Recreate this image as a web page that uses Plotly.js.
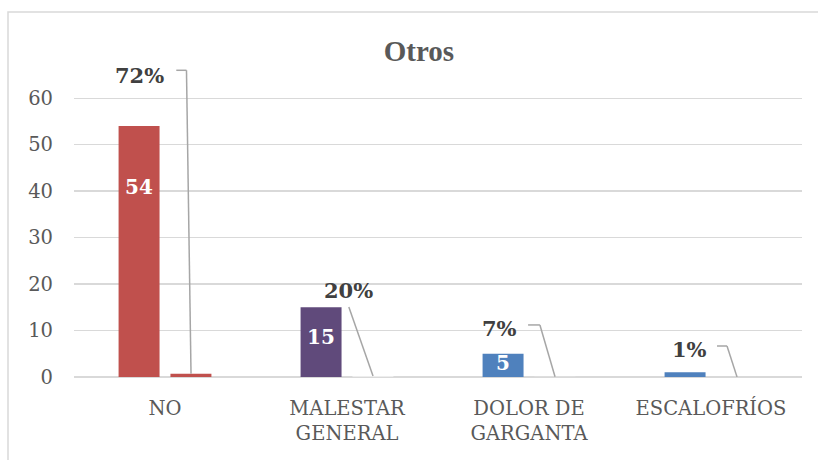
<!DOCTYPE html>
<html>
<head>
<meta charset="utf-8">
<script src="https://cdn.plot.ly/plotly-3.0.1.min.js"></script>
<style>html,body{margin:0;padding:0;background:#fff;}#chart{width:818px;height:460px;}</style>
</head>
<body>
<div id="chart"></div>
<script>
// ---- data ----
const categories = ['NO', 'MALESTAR<br>GENERAL', 'DOLOR DE<br>GARGANTA', 'ESCALOFRÍOS'];
const counts = [54, 15, 5, 1];
const percents = [0.72, 0.20, 0.07, 0.01];
const percentLabels = ['72%', '20%', '7%', '1%'];
const yTicks = [0, 10, 20, 30, 40, 50, 60];

// ---- styling / layout config (not data) ----
const countColors = ['#C0504D', '#604A7B', '#4F81BD', '#4F81BD'];
const pctColors = ['#C0504D', '#EDEDED', '#EDEDED', '#EDEDED'];
const barHalf = 0.143;                       // offset of each bar from category centre
const countLabelY = [40.9, 8.6, 3.0];        // vertical placement of in-bar labels
const pctLabelPos = [                        // callout text position + leader start/elbow
  {tx: -0.14, ty: 64.9, sx: 0.062, sy: 66.0, ex: 0.118},
  {tx: 0.01,  ty: 18.7, sx: 0.010, sy: 15.05, ex: 0.010},
  {tx: -0.16, ty: 10.5, sx: -0.005, sy: 11.2, ex: 0.060},
  {tx: -0.12, ty: 6.0,  sx: 0.033, sy: 6.67, ex: 0.088}
];

const serif = 'DejaVu Serif, Liberation Serif, serif';

const traces = [
  {type: 'bar', x: categories, y: counts, marker: {color: countColors}, hoverinfo: 'skip'},
  {type: 'bar', x: categories, y: percents, marker: {color: pctColors}, hoverinfo: 'skip'}
];

const annotations = [];
const shapes = [];

counts.forEach((v, i) => {
  if (i < countLabelY.length) {
    annotations.push({
      x: i - barHalf, y: countLabelY[i], xref: 'x', yref: 'y',
      text: '<b>' + v + '</b>', showarrow: false,
      font: {family: serif, size: 20, color: '#FFFFFF'}
    });
  }
});

percents.forEach((p, i) => {
  const c = pctLabelPos[i];
  annotations.push({
    x: i + c.tx, y: c.ty, xref: 'x', yref: 'y',
    text: '<b>' + percentLabels[i] + '</b>', showarrow: false,
    font: {family: serif, size: 21, color: '#404040'}
  });
  const lineStyle = {color: '#A6A6A6', width: 1.5};
  if (c.ex !== c.sx) {
    shapes.push({type: 'line', xref: 'x', yref: 'y', x0: i + c.sx, y0: c.sy, x1: i + c.ex, y1: c.sy, line: lineStyle});
  }
  shapes.push({type: 'line', xref: 'x', yref: 'y', x0: i + c.ex, y0: c.sy, x1: i + barHalf, y1: p, line: lineStyle});
});

// outer chart border (left/top visible)
shapes.push({type: 'rect', xref: 'paper', yref: 'paper',
  x0: (8 - 74) / 728, x1: (840 - 74) / 728, y0: (377 - 480) / 316, y1: (377 - 12) / 316,
  line: {color: '#D9D9D9', width: 1.5}, fillcolor: 'rgba(0,0,0,0)', layer: 'below'});

const layout = {
  width: 818, height: 460,
  margin: {l: 74, r: 16, t: 61, b: 83, pad: 0},
  paper_bgcolor: '#FFFFFF', plot_bgcolor: '#FFFFFF',
  showlegend: false,
  barmode: 'group', bargap: 0.43, bargroupgap: 0.21,
  title: {text: '<b>Otros</b>', x: 419 / 818, xref: 'container', xanchor: 'center',
          y: 1 - 51 / 460, yref: 'container', yanchor: 'middle',
          font: {family: 'Liberation Serif, serif', size: 29, color: '#595959'}},
  xaxis: {type: 'category', tickfont: {family: serif, size: 19.5, color: '#595959'},
          showgrid: false, showline: false, ticks: '', ticklabelstandoff: 17, fixedrange: true},
  yaxis: {range: [0, 68], tickvals: yTicks, ticktext: yTicks.map(String),
          tickfont: {family: serif, size: 19.5, color: '#595959'},
          showgrid: true, gridcolor: '#D9D9D9', gridwidth: 1.3,
          zeroline: true, zerolinecolor: '#D9D9D9', zerolinewidth: 1.5,
          showline: false, ticks: '', ticklabelstandoff: 20, fixedrange: true},
  annotations: annotations,
  shapes: shapes
};

Plotly.newPlot('chart', traces, layout, {displayModeBar: false, staticPlot: true});
</script>
</body>
</html>
